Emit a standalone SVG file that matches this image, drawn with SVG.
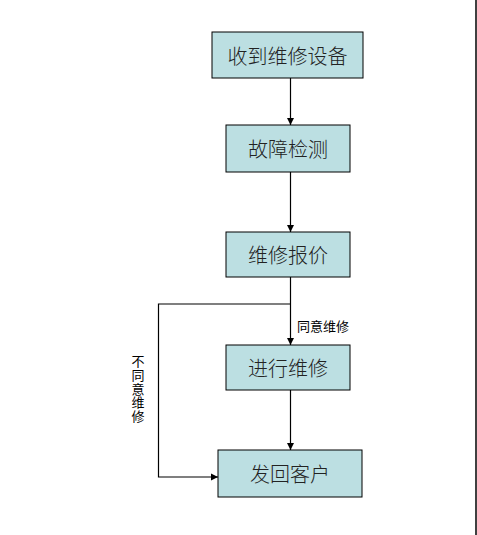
<svg xmlns="http://www.w3.org/2000/svg" width="477" height="535" viewBox="0 0 477 535">
<defs>
<marker id="ah" markerWidth="8" markerHeight="8" refX="7" refY="4" orient="auto" markerUnits="userSpaceOnUse">
<path d="M0,0.5 L7,4 L0,7.5 Z" fill="#000"/>
</marker>
<style>
.box{fill:#BCDFE2;stroke:#000;stroke-width:1}
.t{font-family:"Noto Sans CJK SC",sans-serif;font-size:20px;font-weight:300;fill:#222;text-anchor:middle;dominant-baseline:central}
.lbl{font-family:"Noto Sans CJK SC",sans-serif;font-size:13px;fill:#000}
.c{fill:none;stroke:#000;stroke-width:1.2}
</style>
</defs>
<rect width="477" height="535" fill="#fff"/>
<line x1="476" y1="0" x2="476" y2="535" stroke="#000" stroke-width="1.5"/>
<g id="n1"><rect class="box" x="212" y="32" width="151" height="46"/><text class="t" x="287.5" y="55">收到维修设备</text></g>
<g id="n2"><rect class="box" x="226" y="125" width="124" height="47"/><text class="t" x="288" y="148.5">故障检测</text></g>
<g id="n3"><rect class="box" x="226" y="232" width="124" height="45"/><text class="t" x="288" y="254.5">维修报价</text></g>
<g id="n4"><rect class="box" x="226" y="345" width="124" height="45"/><text class="t" x="288" y="367.5">进行维修</text></g>
<g id="n5"><rect class="box" x="218" y="450" width="144" height="47"/><text class="t" x="290" y="473.5">发回客户</text></g>
<g id="connectors">
<line class="c" x1="290.5" y1="78" x2="290.5" y2="125" marker-end="url(#ah)"/>
<line class="c" x1="290.5" y1="172" x2="290.5" y2="232" marker-end="url(#ah)"/>
<line class="c" x1="290.5" y1="277" x2="290.5" y2="345" marker-end="url(#ah)"/>
<line class="c" x1="290.5" y1="390" x2="290.5" y2="450" marker-end="url(#ah)"/>
<polyline class="c" points="290.5,304 158.5,304 158.5,477 218,477" marker-end="url(#ah)"/>
<text class="lbl" x="297" y="331">同意维修</text>
<text class="lbl" x="138" y="355" style="writing-mode:vertical-rl;letter-spacing:0.6px">不同意维修</text>
</g>
</svg>
